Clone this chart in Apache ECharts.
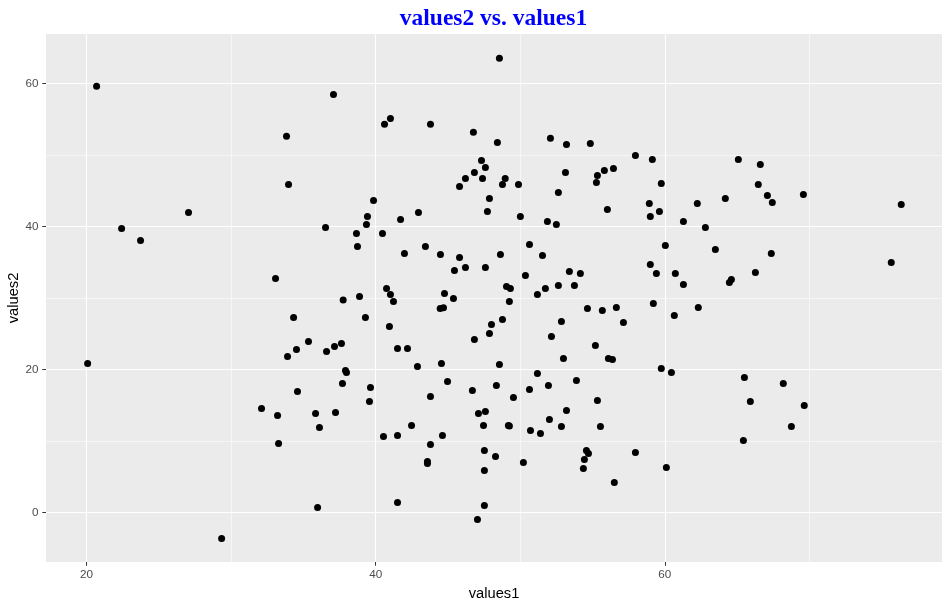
<!DOCTYPE html>
<html>
<head>
<meta charset="utf-8">
<script src="https://cdn.jsdelivr.net/npm/echarts@6/dist/echarts.min.js"></script>
<style>html,body{margin:0;padding:0;background:#fff}#c{width:950px;height:608px}</style>
</head>
<body>
<div id="c"></div>
<script>
const values1 = [
20.69,37.08,33.83,33.97,27.05,22.42,23.73,36.53,33.07,37.75,
48.56,40.61,41.02,43.79,46.76,48.42,52.09,53.20,54.85,57.97,
47.32,47.59,46.83,46.21,47.39,48.96,48.77,45.80,49.88,53.13,
55.34,55.82,56.45,55.27,52.64,56.03,47.87,47.73,50.01,51.88,
52.50,39.85,39.43,39.36,38.67,40.47,38.74,41.72,42.96,41.99,
43.44,44.48,45.80,45.45,46.21,47.59,48.63,50.64,51.54,50.36,
53.40,54.16,52.64,53.75,51.74,51.19,49.05,49.32,40.75,41.02,
38.88,44.76,45.38,
59.14,65.09,66.61,59.76,66.47,67.10,67.44,69.59,76.36,58.93,
59.00,59.63,62.25,64.19,61.29,62.81,60.04,63.50,67.37,75.67,
59.00,59.42,60.73,61.29,66.27,64.61,64.47,
34.32,35.35,34.52,33.90,36.60,37.15,37.63,20.07,37.70,34.59,
32.10,33.21,35.84,37.22,36.11,33.28,35.98,29.34,
41.23,49.25,39.29,40.95,44.46,44.69,48.77,48.01,47.87,46.83,
54.65,55.68,56.65,57.14,52.85,52.16,55.20,52.99,56.10,56.38,
41.51,42.20,42.89,44.55,48.56,37.91,37.98,39.64,39.57,44.97,
43.79,46.69,48.35,49.53,51.19,50.64,51.95,53.89,55.34,53.20,
47.11,47.59,47.46,49.18,49.25,52.02,50.71,51.40,52.85,55.55,
42.48,40.54,41.51,44.62,43.79,43.58,43.58,47.52,48.29,47.52,
50.22,54.58,54.72,54.44,54.37,56.51,57.97,41.51,47.52,47.04,
59.21,60.66,62.32,59.76,60.46,65.51,68.20,65.92,69.65,68.76,
65.44,60.11
];
const values2 = [
59.58,58.46,52.59,45.87,41.96,39.72,38.04,39.86,32.73,29.73,
63.50,54.27,55.10,54.27,53.15,51.75,52.31,51.47,51.61,49.93,
49.23,48.25,47.55,46.71,46.71,46.71,45.87,45.59,45.87,47.55,
47.13,47.83,48.11,46.15,44.76,42.38,43.92,42.10,41.40,40.70,
40.28,43.64,41.40,40.28,39.02,39.02,37.20,40.98,41.96,36.22,
37.20,36.08,35.66,33.85,34.27,34.27,36.08,37.48,35.94,33.15,
33.71,33.43,31.75,31.75,31.33,30.49,31.61,31.33,31.33,30.49,
30.21,30.63,29.93,
49.37,49.37,48.67,46.01,45.87,44.34,43.36,44.48,43.08,43.22,
41.40,42.10,43.22,43.92,40.70,39.86,37.34,36.78,36.22,34.97,
34.69,33.43,33.43,31.89,33.57,32.59,32.17,
27.27,23.92,22.80,21.82,22.52,23.22,23.64,20.84,18.04,16.92,
14.55,13.57,13.85,13.99,11.89,9.65,0.70,-3.64,
29.51,29.51,27.27,26.01,28.53,28.62,26.99,26.29,25.03,24.20,
28.53,28.25,28.67,26.57,26.71,24.62,23.36,21.54,21.54,21.40,
22.94,22.94,20.42,20.84,20.70,19.86,19.58,17.48,15.52,18.32,
16.22,17.06,17.76,16.08,19.44,17.20,17.76,18.46,15.66,14.27,
13.85,14.13,12.17,12.17,12.10,13.01,11.47,11.05,12.03,12.03,
12.17,10.63,10.77,10.77,9.51,7.13,6.85,8.67,7.83,5.87,
6.99,8.67,8.25,7.41,6.15,4.20,8.39,1.40,0.98,-0.98,
29.23,27.55,28.67,20.14,19.58,18.88,18.04,15.52,14.97,12.03,
10.07,6.29
];
const xMajorTicks = [20, 40, 60];
const xMinorTicks = [30, 50, 70];
const yMajorTicks = [0, 20, 40, 60];
const yMinorTicks = [10, 30, 50];
const xRange = [17.19, 79.18];
const yRange = [-6.91, 66.9];

const points = values1.map((v, i) => [v, values2[i]]);

const gridLines = [];
xMinorTicks.forEach(v => gridLines.push({ xAxis: v, lineStyle: { width: 0.55 } }));
yMinorTicks.forEach(v => gridLines.push({ yAxis: v, lineStyle: { width: 0.55 } }));
xMajorTicks.forEach(v => gridLines.push({ xAxis: v, lineStyle: { width: 1.1 } }));
yMajorTicks.forEach(v => gridLines.push({ yAxis: v, lineStyle: { width: 1.1 } }));

const chart = echarts.init(document.getElementById('c'), null, { renderer: 'canvas' });
const axisFont = { fontFamily: 'Liberation Sans, Arial, sans-serif', fontSize: 11.7, color: '#4D4D4D' };
chart.setOption({
  animation: false,
  backgroundColor: '#ffffff',
  title: {
    text: 'values2 vs. values1',
    left: 488.5,
    top: 2,
    textAlign: 'center',
    textStyle: { fontFamily: 'Liberation Serif, Times New Roman, serif', fontWeight: 'bold', fontSize: 23.5, color: '#0000FF' }
  },
  grid: { left: 46, right: 8, top: 34, bottom: 46, containLabel: false, outerBoundsMode: 'none', show: true, backgroundColor: '#EBEBEB', borderWidth: 0 },
  xAxis: {
    type: 'value', min: xRange[0], max: xRange[1],
    name: 'values1', nameLocation: 'middle', nameGap: 24, nameMoveOverlap: false,
    nameTextStyle: { fontFamily: 'Liberation Sans, Arial, sans-serif', fontSize: 14.7, color: '#000' },
    axisLine: { show: false, onZero: false },
    axisTick: { show: true, length: 3.7, customValues: xMajorTicks, lineStyle: { color: '#333333', width: 1 } },
    axisLabel: Object.assign({ customValues: xMajorTicks, margin: 7 }, axisFont),
    splitLine: { show: false }
  },
  yAxis: {
    type: 'value', min: yRange[0], max: yRange[1],
    name: 'values2', nameLocation: 'middle', nameGap: 25, nameRotate: 90, nameMoveOverlap: false,
    nameTextStyle: { fontFamily: 'Liberation Sans, Arial, sans-serif', fontSize: 14.7, color: '#000' },
    axisLine: { show: false, onZero: false },
    axisTick: { show: true, length: 3.7, customValues: yMajorTicks, lineStyle: { color: '#333333', width: 1 } },
    axisLabel: Object.assign({ customValues: yMajorTicks, margin: 7.5 }, axisFont),
    splitLine: { show: false }
  },
  series: [
    {
      type: 'scatter', data: [], z: 1, silent: true,
      markLine: {
        silent: true, symbol: ['none', 'none'], z: 1, animation: false,
        label: { show: false },
        lineStyle: { color: '#FFFFFF', type: 'solid' },
        emphasis: { disabled: true },
        data: gridLines
      }
    },
    {
      type: 'scatter', data: points, z: 3,
      symbol: 'circle', symbolSize: 7,
      itemStyle: { color: '#000000', opacity: 1 }
    }
  ]
});
</script>
</body>
</html>
